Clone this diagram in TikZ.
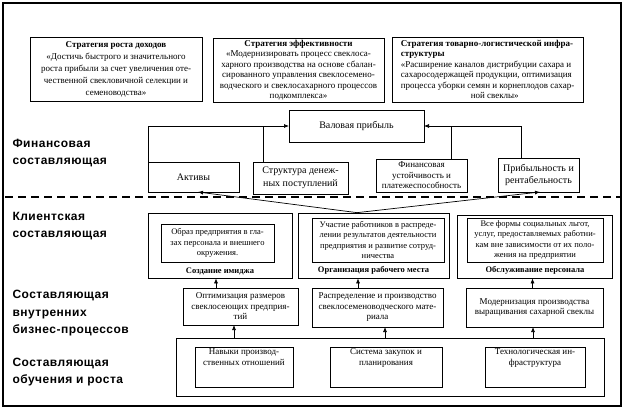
\documentclass[tikz,border=0pt]{standalone}
\usepackage{fontspec}
\setmainfont{Liberation Serif}
\newfontfamily\sidefont[LetterSpace=4]{Liberation Sans}
\usetikzlibrary{arrows.meta,positioning}

\tikzset{
  box/.style={draw, line width=0.7pt, inner sep=1pt, outer sep=0pt, align=center, font=\fontsize{9}{10.5}\selectfont},
  bigbox/.style={box, font=\fontsize{10}{12.5}\selectfont},
  smallbox/.style={box, font=\fontsize{8.5}{10.4}\selectfont},
  boxcap/.style={font=\bfseries\fontsize{8.5}{10}\selectfont},
  side/.style={anchor=west, align=left, font=\sidefont\bfseries\fontsize{12}{17.5}\selectfont},
  arr/.style={-{Latex[length=5pt,width=4pt]}, line width=0.7pt},
}

\begin{document}
\begin{tikzpicture}[x=1pt, y=-1pt]
\useasboundingbox (0,0) rectangle (624,410);
\draw[line width=2.5pt] (3,3) rectangle (621,406);
\draw[line width=1.6pt, dash pattern=on 8pt off 5pt] (5,197) -- (620,197);

% strategies
\node[box, font=\fontsize{9}{12}\selectfont, minimum width=172pt, minimum height=64pt] (incstr) at (116,69)
  {\textbf{Стратегия роста доходов}\\«Достичь быстрого и значительного\\роста прибыли за счет увеличения оте-\\чественной свекловичной селекции и\\семеноводства»};
\node[box, minimum width=171pt, minimum height=64pt] (effstr) at (298.5,70)
  {\textbf{Стратегия эффективности}\\«Модернизировать процесс свеклоса-\\харного производства на основе сбалан-\\сированного управления свеклосемено-\\водческого и свеклосахарного процессов\\подкомплекса»};
\node[box, align=left, minimum width=191pt, minimum height=65pt] (logstr) at (487.5,69.5)
  {\textbf{Стратегия товарно-логистической инфра-}\\\textbf{структуры}\\«Расширение каналов дистрибуции сахара и\\сахаросодержащей продукции, оптимизация\\процесса уборки семян и корнеплодов сахар-\\\hspace*{70pt}ной свеклы»};

% financial
\node[bigbox, minimum width=135pt, minimum height=32pt] (gp) at (356.5,126) {Валовая прибыль};
\node[bigbox, minimum width=91pt, minimum height=30pt] (act) at (193.5,177) {Активы};
\node[bigbox, minimum width=95pt, minimum height=32pt] (cash) at (300.5,178) {Структура денеж-\\ных поступлений};
\node[box, minimum width=91pt, minimum height=33pt] (solv) at (421.5,175.5) {Финансовая\\устойчивость и\\платежеспособность};
\node[bigbox, minimum width=81pt, minimum height=34pt] (prof) at (538.5,175) {Прибыльность и\\рентабельность};

\draw[arr] (act.north west) |- (gp.west);
\draw ([xshift=10pt]cash.north west) -- ([xshift=10pt]cash.north west |- gp.west);
\draw[arr] ([xshift=-17pt]prof.north) |- (gp.east);
\draw ([xshift=30pt]solv.north) -- ([xshift=30pt]solv.north |- gp.east);

% customers
\node[draw, line width=0.7pt, minimum width=144pt, minimum height=65pt] (cimage) at (220,245.5) {};
\node[smallbox, minimum width=113pt, minimum height=38pt] (timage) at (217.5,243) {Образ предприятия в гла-\\зах персонала и внешнего\\окружения.};
\node[boxcap] (limage) at (220,271) {Создание имиджа};

\node[draw, line width=0.7pt, minimum width=151pt, minimum height=65pt] (cwork) at (373.5,245.5) {};
\node[smallbox, minimum width=132pt, minimum height=44pt] (twork) at (378,240) {Участие работников в распреде-\\лении результатов деятельности\\предприятия и развитие сотруд-\\ничества};
\node[boxcap] (lwork) at (373.5,270.5) {Организация рабочего места};

\node[draw, line width=0.7pt, minimum width=155pt, minimum height=63pt] (cserv) at (534.5,246.5) {};
\node[smallbox, minimum width=136pt, minimum height=44pt] (tserv) at (535,240) {Все формы социальных льгот,\\услуг, предоставляемых работни-\\кам вне зависимости от их поло-\\жения на предприятии};
\node[boxcap] (lserv) at (535,270.5) {Обслуживание персонала};

\draw[arr] ([xshift=-16.5pt]cwork.north) -- ([xshift=4.5pt]act.south);
\draw[arr] ([xshift=-16.5pt]cwork.north) -- ([xshift=1.5pt]prof.south);

% internal processes
\node[box, minimum width=115pt, minimum height=37pt] (popt) at (240.5,306.5) {Оптимизация размеров\\свеклосеющих предприя-\\тий};
\node[box, minimum width=131pt, minimum height=39pt] (pdist) at (377.5,307.5) {Распределение и производство\\свеклосеменоводческого мате-\\риала};
\node[box, minimum width=137pt, minimum height=39pt] (pmod) at (534.5,307.5) {Модернизация производства\\выращивания сахарной свеклы};

\draw[arr] ([xshift=-24.5pt]popt.north) -- ([xshift=-24.5pt]popt.north |- cimage.south);
\draw[arr] ([xshift=-19.5pt]pdist.north) -- ([xshift=-19.5pt]pdist.north |- cwork.south);
\draw[arr] ([xshift=-2pt]pmod.north) -- ([xshift=-2pt]pmod.north |- cserv.south);

% learning and growth
\node[draw, line width=0.7pt, minimum width=428pt, minimum height=58pt] (learn) at (390,367) {};
\node[box, minimum width=98pt, minimum height=40pt] (skill) at (244,367) {\parbox[c][36pt][t]{94pt}{\centering Навыки производ-\\ственных отношений}};
\node[box, minimum width=112pt, minimum height=40pt] (plan) at (386,367) {\parbox[c][36pt][t]{108pt}{\centering Система закупок и\\планирования}};
\node[box, minimum width=100pt, minimum height=40pt] (tech) at (535,367) {\parbox[c][36pt][t]{96pt}{\centering Технологическая ин-\\фраструктура}};

\draw[arr] ([xshift=-6.5pt]popt.south |- learn.north) -- ([xshift=-6.5pt]popt.south);
\draw[arr] ([xshift=7.5pt]pdist.south |- learn.north) -- ([xshift=7.5pt]pdist.south);
\draw[arr] ([xshift=-1.5pt]pmod.south |- learn.north) -- ([xshift=-1.5pt]pmod.south);

% perspectives
\node[side] (finp) at (9,153) {Финансовая\\составляющая};
\node[side] (custp) at (9,226) {Клиентская\\составляющая};
\node[side] (procp) at (9,313.5) {Составляющая\\внутренних\\бизнес-процессов};
\node[side] (learnp) at (9,372) {Составляющая\\обучения и роста};
\end{tikzpicture}
\end{document}
